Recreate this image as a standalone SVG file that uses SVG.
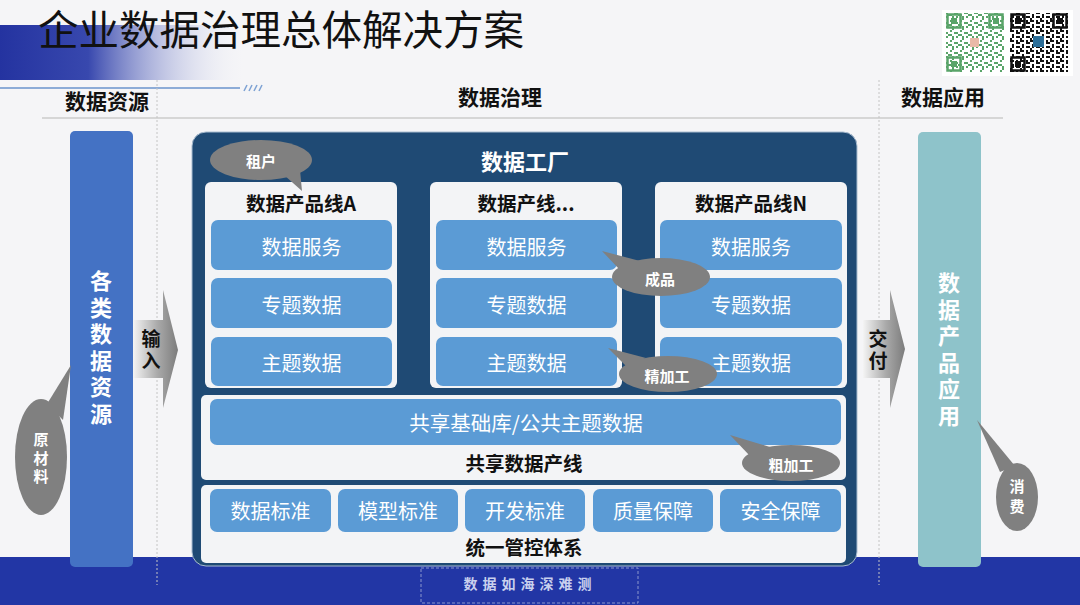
<svg xmlns="http://www.w3.org/2000/svg" width="1080" height="605" viewBox="0 0 1080 605">
<defs>
<linearGradient id="band" x1="0" y1="0" x2="1" y2="0">
<stop offset="0" stop-color="#2433a0"/>
<stop offset="0.35" stop-color="#3848ae"/>
<stop offset="1" stop-color="#ffffff" stop-opacity="0"/>
</linearGradient>
<linearGradient id="arr" x1="0" y1="0" x2="1" y2="0">
<stop offset="0" stop-color="#f4f4f4"/>
<stop offset="0.55" stop-color="#a9a9a9"/>
<stop offset="1" stop-color="#7c7c7c"/>
</linearGradient>
<pattern id="qrg" width="10" height="10" patternUnits="userSpaceOnUse">
<g fill="#5aa469"><rect x="0" y="0" width="2" height="2"/><rect x="4" y="2" width="4" height="2"/><rect x="2" y="6" width="2" height="4"/><rect x="6" y="6" width="2" height="2"/><rect x="8" y="4" width="2" height="2"/><rect x="0" y="4" width="2" height="2"/></g>
</pattern>
<pattern id="qrb" width="10" height="10" patternUnits="userSpaceOnUse">
<g fill="#111"><rect x="0" y="0" width="4" height="2"/><rect x="6" y="0" width="2" height="4"/><rect x="2" y="4" width="2" height="4"/><rect x="6" y="6" width="4" height="2"/><rect x="0" y="8" width="2" height="2"/><rect x="8" y="2" width="2" height="2"/></g>
</pattern>
</defs>
<style>
.cn{font-family:"Noto Sans CJK SC","Noto Sans",sans-serif}
.hdr{font-size:21px;font-weight:700;fill:#111}
.wb{font-size:20px;fill:#fff}
.pl{font-size:19.5px;font-weight:700;fill:#111}
.vt{font-size:22px;font-weight:700;fill:#fff;letter-spacing:4.6px}
.vert{writing-mode:vertical-rl;text-orientation:upright}
.bub{fill:#808080}
.bt{font-size:15px;font-weight:700;fill:#fff}
.box{fill:#5b9bd5}
.panel{fill:#f3f4f6}
.dot{stroke:#c4c4c4;stroke-width:1;stroke-dasharray:2 2}
</style>
<rect width="1080" height="605" fill="#f5f5f7"/>
<!-- top banner -->
<rect x="0" y="25" width="252" height="55" fill="url(#band)"/>
<line x1="0" y1="88" x2="240" y2="88" stroke="#6a93cc" stroke-width="1.5"/>
<g stroke="#7ea3d4" stroke-width="1.5"><line x1="244" y1="91" x2="247" y2="85"/><line x1="249" y1="91" x2="252" y2="85"/><line x1="254" y1="91" x2="257" y2="85"/><line x1="259" y1="91" x2="262" y2="85"/></g>
<text class="cn" x="38" y="45" font-size="40.5" fill="#111">企业数据治理总体解决方案</text>
<!-- QR codes -->
<g id="qr">
<rect x="942" y="10" width="131" height="66" fill="#fff"/>
<rect x="946" y="13" width="58" height="59" fill="url(#qrg)"/>
<g fill="none" stroke="#5aa469" stroke-width="2.5"><rect x="947.5" y="14.5" width="13" height="13"/><rect x="989.5" y="14.5" width="13" height="13"/><rect x="947.5" y="57.5" width="13" height="13"/></g>
<g fill="#5aa469"><rect x="951" y="18" width="6" height="6"/><rect x="993" y="18" width="6" height="6"/><rect x="951" y="61" width="6" height="6"/></g>
<rect x="970" y="38" width="9" height="9" fill="#e9b9a8"/>
<rect x="1010" y="13" width="58" height="59" fill="url(#qrb)"/>
<g fill="none" stroke="#111" stroke-width="2.5"><rect x="1011.5" y="14.5" width="13" height="13"/><rect x="1053.5" y="14.5" width="13" height="13"/><rect x="1011.5" y="57.5" width="13" height="13"/></g>
<g fill="#111"><rect x="1015" y="18" width="6" height="6"/><rect x="1057" y="18" width="6" height="6"/><rect x="1015" y="61" width="6" height="6"/></g>
<rect x="1033" y="36" width="11" height="11" fill="#2b6f9a"/>
</g>
<!-- headers -->
<text class="cn hdr" x="107" y="100" text-anchor="middle" dominant-baseline="central">数据资源</text>
<text class="cn hdr" x="500" y="96" text-anchor="middle" dominant-baseline="central">数据治理</text>
<text class="cn hdr" x="943" y="96" text-anchor="middle" dominant-baseline="central">数据应用</text>
<line x1="42" y1="118" x2="1003" y2="118" stroke="#d6d6d6" stroke-width="2"/>
<!-- bottom band -->
<rect x="0" y="557" width="1080" height="48" fill="#2236a5"/>
<line class="dot" x1="157" y1="80" x2="157" y2="585"/>
<line class="dot" x1="879" y1="80" x2="879" y2="585"/>
<rect x="421" y="568" width="217" height="35" fill="none" stroke="#8a96cc" stroke-width="1" stroke-dasharray="3 2"/>
<text class="cn" x="530" y="583" font-size="14" font-weight="700" fill="#c9d0ee" letter-spacing="5" text-anchor="middle" dominant-baseline="central">数据如海深难测</text>
<!-- left column -->
<g id="source">
<rect x="70" y="131" width="63" height="436" rx="5" fill="#4472c4"/>
<text class="cn vt vert" x="101" y="349.5" text-anchor="middle">各类数据资源</text>
</g>
<g id="raw">
<polygon class="bub" points="71,365 47,404 63,420"/>
<ellipse class="bub" cx="41" cy="457" rx="26" ry="58"/>
<text class="cn bt vert" x="41" y="460" text-anchor="middle" letter-spacing="3.5">原材料</text>
</g>
<!-- right column -->
<g id="app">
<rect x="918" y="132" width="63" height="435" rx="5" fill="#8ec3ca"/>
<text class="cn vt vert" x="949" y="351.5" text-anchor="middle">数据产品应用</text>
</g>
<g id="consume">
<polygon class="bub" points="977,420 1000,472 1015,466"/>
<ellipse class="bub" cx="1017" cy="497" rx="21" ry="34"/>
<text class="cn bt vert" x="1017" y="499" text-anchor="middle" letter-spacing="5">消费</text>
</g>
<!-- connectors -->
<g id="connectors">
<g id="input">
<polygon points="133,320 163,320 163,290 178,350 163,408 163,378 133,378" fill="url(#arr)"/>
<text class="cn vert" x="151" y="351.5" font-size="19" font-weight="700" fill="#111" text-anchor="middle" letter-spacing="3">输入</text>
</g>
<g id="deliver">
<polygon points="863,320 890,320 890,290 905,349 890,408 890,378 863,378" fill="url(#arr)"/>
<text class="cn vert" x="878" y="351.5" font-size="19" font-weight="700" fill="#111" text-anchor="middle" letter-spacing="3">交付</text>
</g>
</g>
<!-- main factory -->
<g id="factory">
<rect x="192" y="132" width="665" height="434" rx="14" fill="#1f4a74" stroke="#a9bccf" stroke-width="1"/>
<text class="cn" x="525" y="160" font-size="22" font-weight="700" fill="#fff" text-anchor="middle" dominant-baseline="central">数据工厂</text>
</g>
<g id="lineA">
<rect class="panel" x="205" y="182" width="192" height="206" rx="6"/>
<text class="cn pl" x="301" y="202" text-anchor="middle" dominant-baseline="central">数据产品线A</text>
<rect class="box" x="211" y="220" width="181" height="50" rx="7"/>
<rect class="box" x="211" y="278" width="181" height="50" rx="7"/>
<rect class="box" x="211" y="337" width="181" height="49" rx="7"/>
<g class="cn wb" text-anchor="middle" dominant-baseline="central"><text x="301.5" y="246">数据服务</text><text x="301.5" y="304">专题数据</text><text x="301.5" y="362">主题数据</text></g>
</g>
<g id="lineM">
<rect class="panel" x="430" y="182" width="192" height="206" rx="6"/>
<text class="cn pl" x="526" y="202" text-anchor="middle" dominant-baseline="central">数据产线...</text>
<rect class="box" x="436" y="220" width="181" height="50" rx="7"/>
<rect class="box" x="436" y="278" width="181" height="50" rx="7"/>
<rect class="box" x="436" y="337" width="181" height="49" rx="7"/>
<g class="cn wb" text-anchor="middle" dominant-baseline="central"><text x="526.5" y="246">数据服务</text><text x="526.5" y="304">专题数据</text><text x="526.5" y="362">主题数据</text></g>
</g>
<g id="lineN">
<rect class="panel" x="655" y="182" width="192" height="206" rx="6"/>
<text class="cn pl" x="751" y="202" text-anchor="middle" dominant-baseline="central">数据产品线N</text>
<rect class="box" x="660" y="220" width="182" height="50" rx="7"/>
<rect class="box" x="660" y="278" width="182" height="50" rx="7"/>
<rect class="box" x="660" y="337" width="182" height="49" rx="7"/>
<g class="cn wb" text-anchor="middle" dominant-baseline="central"><text x="751" y="246">数据服务</text><text x="751" y="304">专题数据</text><text x="751" y="362">主题数据</text></g>
</g>
<g id="shared">
<rect class="panel" x="201" y="395" width="645" height="85" rx="5"/>
<rect class="box" x="210" y="399" width="631" height="46" rx="7"/>
<text class="cn" x="526" y="422" font-size="20.5" fill="#fff" text-anchor="middle" dominant-baseline="central">共享基础库/公共主题数据</text>
<text class="cn pl" x="524" y="462" text-anchor="middle" dominant-baseline="central">共享数据产线</text>
</g>
<g id="control">
<rect class="panel" x="201" y="485" width="645" height="78" rx="5"/>
<rect class="box" x="210" y="489" width="121" height="43" rx="7"/>
<rect class="box" x="338" y="489" width="120" height="43" rx="7"/>
<rect class="box" x="465" y="489" width="120" height="43" rx="7"/>
<rect class="box" x="593" y="489" width="120" height="43" rx="7"/>
<rect class="box" x="720" y="489" width="121" height="43" rx="7"/>
<g class="cn wb" text-anchor="middle" dominant-baseline="central"><text x="270.5" y="510">数据标准</text><text x="398" y="510">模型标准</text><text x="525" y="510">开发标准</text><text x="653" y="510">质量保障</text><text x="780.5" y="510">安全保障</text></g>
<text class="cn pl" x="524" y="546" text-anchor="middle" dominant-baseline="central">统一管控体系</text>
</g>
<!-- callouts -->
<g id="tenant">
<polygon class="bub" points="302,191 284,175 300,170"/>
<ellipse class="bub" cx="261" cy="160" rx="51" ry="20"/>
<text class="cn bt" x="261" y="160" text-anchor="middle" dominant-baseline="central">租户</text>
</g>
<g id="product">
<polygon class="bub" points="602,251 620,270 640,261"/>
<ellipse class="bub" cx="661" cy="277" rx="49" ry="19"/>
<text class="cn bt" x="660" y="278" text-anchor="middle" dominant-baseline="central">成品</text>
</g>
<g id="refine">
<polygon class="bub" points="608,348 626,366 646,358"/>
<ellipse class="bub" cx="668" cy="374" rx="49" ry="18"/>
<text class="cn bt" x="667" y="375" text-anchor="middle" dominant-baseline="central">精加工</text>
</g>
<g id="rough">
<polygon class="bub" points="730,435 750,456 770,447"/>
<ellipse class="bub" cx="791" cy="463" rx="49" ry="18"/>
<text class="cn bt" x="791" y="464" text-anchor="middle" dominant-baseline="central">粗加工</text>
</g>
</svg>
